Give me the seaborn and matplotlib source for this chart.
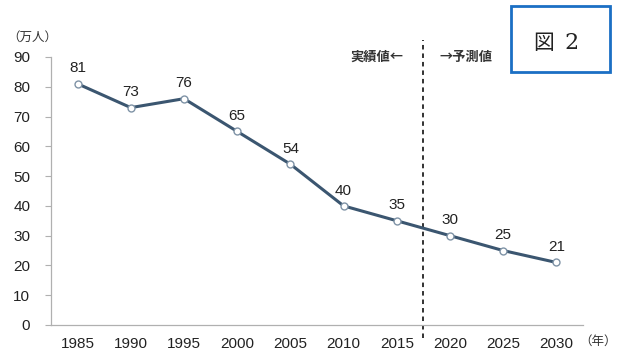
import matplotlib
matplotlib.use("Agg")
import matplotlib.pyplot as plt
import seaborn as sns
import pandas as pd
from matplotlib.patches import Rectangle

years = ["1985", "1990", "1995", "2000", "2005", "2010", "2015", "2020", "2025", "2030"]
values = [81, 73, 76, 65, 54, 40, 35, 30, 25, 21]
yticks = [0, 10, 20, 30, 40, 50, 60, 70, 80, 90]

sns.set_theme(style="white")
plt.rcParams['font.family'] = ['Liberation Sans', 'Noto Sans CJK JP', 'DejaVu Sans']

df = pd.DataFrame({"pos": list(range(len(years))), "value": values})

fig = plt.figure(figsize=(6.22, 3.58), dpi=100)
ax = fig.add_axes([51/622, 33/358, 532/622, 268/358])

line_color = "#3b5670"
sns.lineplot(data=df, x="pos", y="value", ax=ax, color=line_color, linewidth=2.2,
             marker="o", markersize=5, markerfacecolor="white",
             markeredgecolor="#7f93a6", markeredgewidth=1.0, zorder=3)

for i, v in enumerate(values):
    ax.annotate(str(v), (i, v), xytext=(0, 6), textcoords="offset points",
                ha="center", va="bottom", fontsize=11, color="#222222")

ax.set_xlim(-0.5, len(years) - 0.5)
ax.set_ylim(0, 90)
ax.set_yticks(yticks)
ax.set_yticklabels([str(t) for t in yticks], fontsize=11, color="#222222")
ax.set_xticks(range(len(years)))
ax.set_xticklabels(years, fontsize=11, color="#222222")
ax.set_xticks([i - 0.5 for i in range(len(years) + 1)], minor=True)
ax.tick_params(axis="x", which="major", length=0, pad=9)
ax.tick_params(axis="x", which="minor", length=4, color="#b0b0b0", width=0.8, direction="out")
ax.tick_params(axis="y", which="major", length=4, color="#b0b0b0", width=0.8, direction="out", left=True, pad=11)
ax.set_xlabel("")
ax.set_ylabel("")

for s in ["top", "right"]:
    ax.spines[s].set_visible(False)
for s in ["left", "bottom"]:
    ax.spines[s].set_color("#b0b0b0")
    ax.spines[s].set_linewidth(0.9)

# boundary between actual and forecast
ax.axvline(6.5, ymin=-0.05, ymax=1.063, color="#222222", linestyle=(0, (2.5, 2.2)),
           linewidth=1.3, clip_on=False, zorder=2)

jp = ['Noto Sans CJK JP', 'DejaVu Sans']
fig.text(377/622, 1 - 57/358, "実績値←", ha="center", va="center", fontsize=9.5,
         fontweight="bold", color="#333333", family=jp)
fig.text(466/622, 1 - 57/358, "→予測値", ha="center", va="center", fontsize=9.5,
         fontweight="bold", color="#333333", family=jp)
fig.text(32/622, 1 - 37/358, "（万人）", ha="center", va="center", fontsize=9,
         color="#333333", family=jp)
fig.text(598/622, 1 - 341/358, "（年）", ha="center", va="center", fontsize=9,
         color="#333333", family=jp)

# figure label box
fig.patches.append(Rectangle((511/622, 1 - 72/358), 99/622, 66/358,
                             transform=fig.transFigure, fill=False,
                             edgecolor="#1b6fc4", linewidth=2))
fig.text(544/622, 1 - 43/358, "図", ha="center", va="center", fontsize=15,
         color="#222222", family=jp)
fig.text(572/622, 1 - 43/358, "2", ha="center", va="center", fontsize=16,
         color="#222222", family=['DejaVu Serif'])

fig.savefig("out.png", dpi=100)
